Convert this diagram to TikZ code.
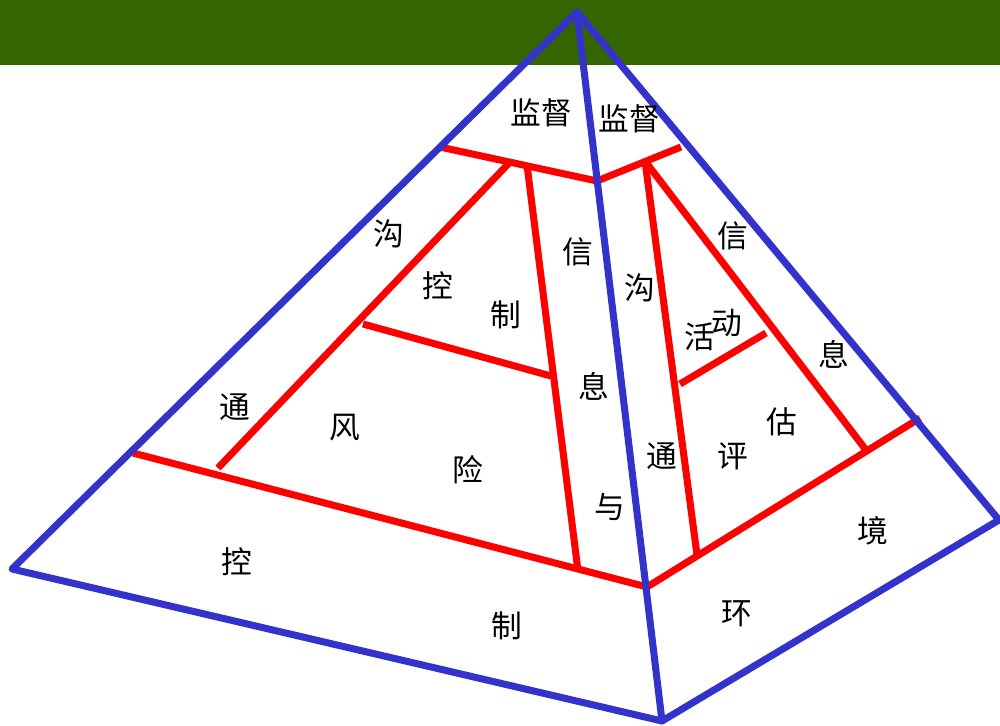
\documentclass[tikz,border=0pt]{standalone}
\usepackage{fontspec}
\setmainfont{Noto Sans CJK SC}
\definecolor{band}{HTML}{336600}
\definecolor{edge}{HTML}{3333CC}
\definecolor{inner}{HTML}{FF0000}
\begin{document}
\begin{tikzpicture}[x=0.02cm,y=-0.02cm,
  blueline/.style={draw=edge,line width=4pt,line cap=round,line join=round},
  redline/.style={draw=inner,line width=4pt},
  lbl/.style={inner sep=0pt,font=\fontsize{17.5}{17.5}\selectfont}]
\useasboundingbox (0,0) rectangle (1000,726);
\fill[band] (0,0) rectangle (1000,65);
% pyramid corners
\coordinate (A) at (577,12);
\coordinate (L) at (12,569);
\coordinate (F) at (662,721);
\coordinate (R) at (999,520);
% red structure points
\coordinate (t1) at (440,147);
\coordinate (tm) at (597,181);
\coordinate (t2) at (681,147);
\coordinate (b1) at (133,453);
\coordinate (bm) at (647,587);
\coordinate (b2) at (920,418);
\coordinate (l1) at (510,162);
\coordinate (l2) at (218,468);
\coordinate (l3) at (527,165);
\coordinate (l4) at (578,571);
\coordinate (l5) at (363,324);
\coordinate (l6) at (551,376);
\coordinate (r1) at (645,161);
\coordinate (r2) at (697,555);
\coordinate (r3) at (866,450);
\coordinate (r4) at (680,384);
\coordinate (r5) at (766,333);
\draw[redline] (t1) -- (tm) -- (t2);
\draw[redline] (b1) -- (bm) -- (b2);
\draw[redline] (l1) -- (l2);
\draw[redline] (l3) -- (l4);
\draw[redline] (l5) -- (l6);
\draw[redline] (r1) -- (r2);
\draw[redline] (r1) -- (r3);
\draw[redline] (r4) -- (r5);
\draw[blueline] (A) -- (L) -- (F) -- (R) -- cycle;
\draw[blueline] (A) -- (F);
% labels
\node[lbl] (n1) at (541,113) {监督};
\node[lbl] (n2) at (629,119) {监督};
\node[lbl] (n3) at (389,234) {沟};
\node[lbl] (n4) at (235,407) {通};
\node[lbl] (n5) at (438,286) {控};
\node[lbl] (n6) at (506,315) {制};
\node[lbl] (n7) at (345,428) {风};
\node[lbl] (n8) at (468,470) {险};
\node[lbl] (n9) at (578,252) {信};
\node[lbl] (n10) at (594,386) {息};
\node[lbl] (n11) at (610,507) {与};
\node[lbl] (n12) at (640,288) {沟};
\node[lbl] (n13) at (662,456) {通};
\node[lbl] (n14) at (733,236) {信};
\node[lbl] (n15) at (834,354) {息};
\node[lbl] (n16) at (727,323) {动};
\node[lbl] (n17) at (700,337) {活};
\node[lbl] (n18) at (782,422) {估};
\node[lbl] (n19) at (733,456) {评};
\node[lbl] (n20) at (873,531) {境};
\node[lbl] (n21) at (737,614) {环};
\node[lbl] (n22) at (237,562) {控};
\node[lbl] (n23) at (507,626) {制};
\end{tikzpicture}
\end{document}
